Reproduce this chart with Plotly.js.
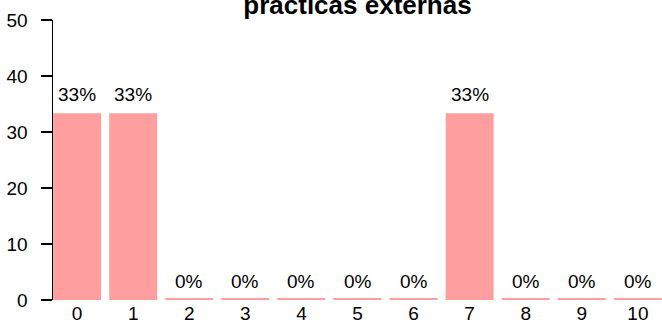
<!DOCTYPE html>
<html>
<head>
<meta charset="utf-8">
<script src="https://cdn.plot.ly/plotly-3.0.1.min.js"></script>
<style>html,body{margin:0;padding:0;background:#fff;}</style>
</head>
<body>
<div id="chart" style="width:662px;height:322px;"></div>
<script>
const categories = [0, 1, 2, 3, 4, 5, 6, 7, 8, 9, 10];
const tickLabels = ["0", "1", "2", "3", "4", "5", "6", "7", "8", "9", "10"];
const values = [33.33, 33.33, 0, 0, 0, 0, 0, 33.33, 0, 0, 0];
const valueLabels = ["33%", "33%", "0%", "0%", "0%", "0%", "0%", "33%", "0%", "0%", "0%"];
const chartTitle = "prácticas externas";

const barColor = "#ff9e9e";
const font = "Liberation Sans, Arial, Helvetica, sans-serif";
const barWidth = 0.856;

const annotations = categories.map((c, i) => ({
  x: c, y: values[i], xref: "x", yref: "y",
  text: valueLabels[i], showarrow: false,
  yanchor: "bottom", yshift: 6,
  font: {family: font, size: 19, color: "#000"}
}));

const shapes = categories.filter((c, i) => values[i] === 0).map(c => ({
  type: "line", xref: "x", yref: "y",
  x0: c - barWidth / 2, x1: c + barWidth / 2,
  ysizemode: "pixel", yanchor: 0, y0: 1, y1: 1,
  line: {color: barColor, width: 2}
}));

const trace = {
  type: "bar",
  x: categories,
  y: values,
  width: barWidth,
  marker: {color: barColor},
  hoverinfo: "skip"
};

const layout = {
  width: 662, height: 322,
  margin: {l: 53, r: 0, t: 20, b: 22, pad: 0},
  paper_bgcolor: "#fff", plot_bgcolor: "#fff",
  showlegend: false,
  font: {family: font, size: 19, color: "#000"},
  title: {
    text: "<b>" + chartTitle + "</b>",
    font: {family: font, size: 26, color: "#000"},
    x: 0.5, xref: "paper", xanchor: "center",
    y: 0.985, yref: "container", yanchor: "middle"
  },
  xaxis: {
    range: [-0.43, 10.43],
    tickmode: "array", tickvals: categories, ticktext: tickLabels,
    showline: false, showgrid: false, zeroline: false,
    ticks: "", ticklen: 0,
    tickfont: {family: font, size: 19, color: "#000"},
    automargin: false, fixedrange: true
  },
  yaxis: {
    range: [0, 50],
    tickmode: "array", tickvals: [0, 10, 20, 30, 40, 50],
    ticktext: ["0", "10", "20", "30", "40", "50"],
    showline: true, linecolor: "#000", linewidth: 1.5,
    ticks: "outside", ticklen: 11, tickwidth: 1.5, tickcolor: "#000",
    ticklabelstandoff: 9,
    showgrid: false, zeroline: false,
    tickfont: {family: font, size: 19, color: "#000"},
    automargin: false, fixedrange: true
  },
  annotations: annotations,
  shapes: shapes
};

Plotly.newPlot("chart", [trace], layout, {displayModeBar: false, staticPlot: true});
</script>
</body>
</html>
